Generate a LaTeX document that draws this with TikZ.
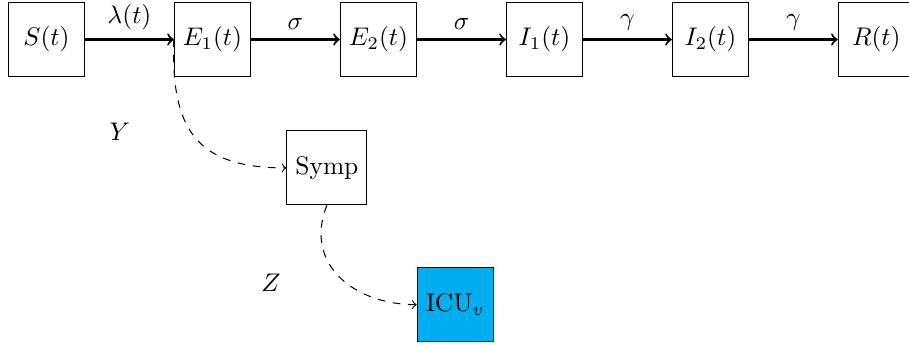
\documentclass[tikz,border=0pt]{standalone}
\usepackage{xcolor}
\definecolor{icublue}{HTML}{00AEEF}
\usetikzlibrary{arrows, positioning}

\begin{document}
\begin{tikzpicture}[state/.style={draw, minimum width=1.05cm, minimum height=1.02cm},
    flow/.style={->, thick}, branch/.style={->, dashed}]
  \useasboundingbox (-0.641,0.545) rectangle (11.9,-4.214);
  % Compartment chain
  \node[state] (s) at (0,0) {$S(t)$};
  \node[state, right=1.225cm of s] (e1) {$E_1(t)$};
  \node[state, right=1.225cm of e1] (e2) {$E_2(t)$};
  \node[state, right=1.225cm of e2] (i1) {$I_1(t)$};
  \node[state, right=1.225cm of i1] (i2) {$I_2(t)$};
  \node[state, right=1.225cm of i2] (r) {$R(t)$};

  % Side branch
  \node[state] (symp) at (3.869,-1.772) {Symp};
  \node[state, fill=icublue] (icu) at (5.639,-3.658) {ICU$_v$};

  % Transitions along the chain
  \draw[flow] (s.east) -- node[above] {$\lambda(t)$} (e1.west);
  \draw[flow] (e1.east) -- node[above] {$\sigma$} (e2.west);
  \draw[flow] (e2.east) -- node[above] {$\sigma$} (i1.west);
  \draw[flow] (i1.east) -- node[above] {$\gamma$} (i2.west);
  \draw[flow] (i2.east) -- node[above] {$\gamma$} (r.west);

  % Dashed branches with their fractions
  \draw[branch] (e1.west) to[out=-92, in=180, looseness=1.35] (symp.west);
  \draw[branch] (symp.south) to[out=-112, in=180, looseness=1.2] (icu.west);
  \node (y) at (1.014,-1.276) {$Y$};
  \node (z) at (3.097,-3.359) {$Z$};
\end{tikzpicture}
\end{document}
